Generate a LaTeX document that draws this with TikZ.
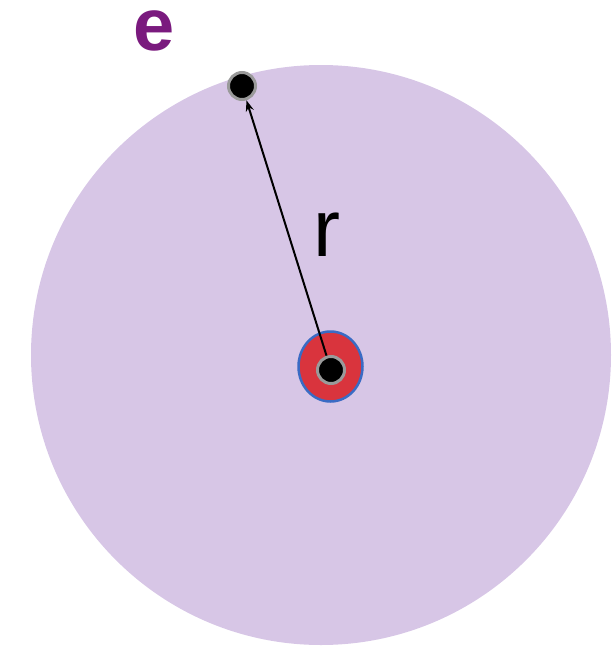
\documentclass[tikz,border=0pt]{standalone}
\usepackage{fontspec}
\setmainfont{Liberation Sans}
\usetikzlibrary{arrows.meta,shapes.geometric}
\definecolor{lilaAtomo}{HTML}{D7C6E6}
\definecolor{rojoNucleo}{HTML}{D9343D}
\definecolor{azulNucleo}{HTML}{3A6BC4}
\definecolor{grisBorde}{HTML}{9A9A9A}
\definecolor{moradoE}{HTML}{7A1A7E}

\begin{document}
\begin{tikzpicture}[x=1pt, y=-1pt,
    atomo/.style={circle, fill=lilaAtomo, minimum size=580pt, inner sep=0pt},
    nucleo/.style={ellipse, draw=azulNucleo, line width=2.5pt, fill=rojoNucleo, minimum width=64pt, minimum height=70pt, inner sep=0pt},
    punto/.style={circle, fill=black, draw=grisBorde, line width=3pt, minimum size=27pt, inner sep=0pt},
    flecha/.style={line width=2pt, -{Stealth[length=11pt, width=8pt]}},
    etiqueta/.style={font=\fontsize{81}{81}\selectfont, inner sep=0pt}
  ]
  \useasboundingbox (0,0) rectangle (616,646);
  % atomo y nucleo
  \node[atomo] (atomo) at (321,355) {};
  \node[nucleo] (nucleo) at (330.5,366.5) {};
  \coordinate (centro) at (331,370);
  % electron
  \node[punto] (electron) at (242,86) {};
  \draw[flecha] (centro) -- (electron);
  \node[punto] (proton) at (centro) {};
  % textos
  \node[etiqueta] (r) at (327,235) {r};
  \node[etiqueta, font=\fontsize{74}{74}\selectfont\bfseries, text=moradoE] (e) at (154,31) {e};
\end{tikzpicture}
\end{document}
